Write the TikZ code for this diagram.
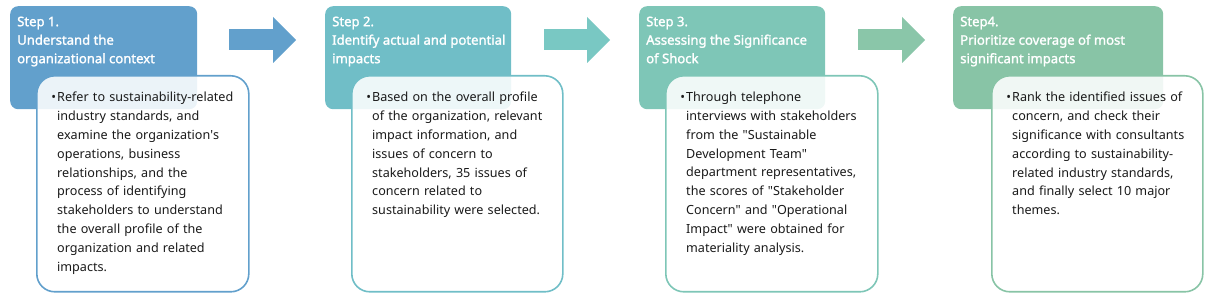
\documentclass[tikz,border=0pt]{standalone}
\usepackage{fontspec}
\setmainfont{Noto Sans}[AutoFakeBold=1.6]
\usetikzlibrary{arrows.meta}

\definecolor{headone}{HTML}{62A0CC}
\definecolor{headtwo}{HTML}{70BEC7}
\definecolor{headthree}{HTML}{7EC6B7}
\definecolor{headfour}{HTML}{88C4A6}
\definecolor{arrowtwo}{HTML}{79C8C3}
\definecolor{arrowthree}{HTML}{8AC6A9}
\definecolor{bodyink}{HTML}{1A1A1A}

\newcommand{\bul}{\leavevmode\llap{{\fontsize{12.6}{12.6}\selectfont\textbullet}\hspace{1pt}}}
\newcommand{\dq}{\textquotedbl}

\begin{document}
\begin{tikzpicture}[
    x=1pt, y=-1pt,
    head/.style={rectangle, rounded corners=8pt, anchor=north west, minimum height=103pt, inner sep=0pt},
    title/.style={anchor=north west, inner sep=0pt, xshift=7pt, yshift=-10.5pt, text=white, align=left,
      font=\fontsize{13.1}{18.5}\selectfont\bfseries},
    body/.style={rectangle, rounded corners=18pt, draw, line width=1.6pt, fill=white, fill opacity=0.88,
      anchor=north west, minimum width=211pt, minimum height=216pt, inner sep=0pt},
    bodytext/.style={anchor=north west, inner sep=0pt, xshift=21pt, yshift=-17pt, text=bodyink,
      fill opacity=1, text opacity=1, align=left, text width=200pt,
      font=\fontsize{12.6}{18.8}\selectfont},
    bigarrow/.style={line width=21pt, -{Triangle[length=23pt, width=46pt, line width=0pt]}}
  ]
    \useasboundingbox (0,0) rectangle (1207,304);

    % Step headers
    \node[head, fill=headone, minimum width=187pt,
      label={[title]north west:Step 1.\\Understand the\\organizational context}] (head1) at (10,6) {};
    \node[head, fill=headtwo, minimum width=186pt,
      label={[title]north west:Step 2.\\Identify actual and potential\\impacts}] (head2) at (325,6) {};
    \node[head, fill=headthree, minimum width=186pt,
      label={[title]north west:Step 3.\\Assessing the Significance\\of Shock}] (head3) at (639,6) {};
    \node[head, fill=headfour, minimum width=210pt,
      label={[title]north west:Step4.\\Prioritize coverage of most\\significant impacts}] (head4) at (953,6) {};

    % Description boxes
    \node[body, draw=headone, minimum width=212pt,
      label={[bodytext]north west:\bul Refer to sustainability-related\\industry standards, and\\examine the organization\textquotesingle s\\operations, business\\relationships, and the\\process of identifying\\stakeholders to understand\\the overall profile of the\\organization and related\\impacts.}]
      (body1) at ([xshift=26pt, yshift=-69pt]head1.north west) {};
    \node[body, draw=headtwo,
      label={[bodytext]north west:\bul Based on the overall profile\\of the organization, relevant\\impact information, and\\issues of concern to\\stakeholders, 35 issues of\\concern related to\\sustainability were selected.}]
      (body2) at ([xshift=26pt, yshift=-69pt]head2.north west) {};
    \node[body, draw=headthree, minimum width=212pt,
      label={[bodytext]north west:\bul Through telephone\\interviews with stakeholders\\from the \dq Sustainable\\Development Team\dq\\department representatives,\\the scores of \dq Stakeholder\\Concern\dq{} and \dq Operational\\Impact\dq{} were obtained for\\materiality analysis.}]
      (body3) at ([xshift=26pt, yshift=-69pt]head3.north west) {};
    \node[body, draw=headfour,
      label={[bodytext]north west:\bul Rank the identified issues of\\concern, and check their\\significance with consultants\\according to sustainability-\\related industry standards,\\and finally select 10 major\\themes.}]
      (body4) at ([xshift=38pt, yshift=-69pt]head4.north west) {};

    % Arrows
    \draw[bigarrow, headone] ([xshift=32pt, yshift=-34pt]head1.north east) -- ([xshift=-29pt, yshift=-34pt]head2.north west);
    \draw[bigarrow, arrowtwo] ([xshift=33pt, yshift=-34pt]head2.north east) -- ([xshift=-29pt, yshift=-34pt]head3.north west);
    \draw[bigarrow, arrowthree] ([xshift=33pt, yshift=-34pt]head3.north east) -- ([xshift=-28pt, yshift=-34pt]head4.north west);
  \end{tikzpicture}
\end{document}
